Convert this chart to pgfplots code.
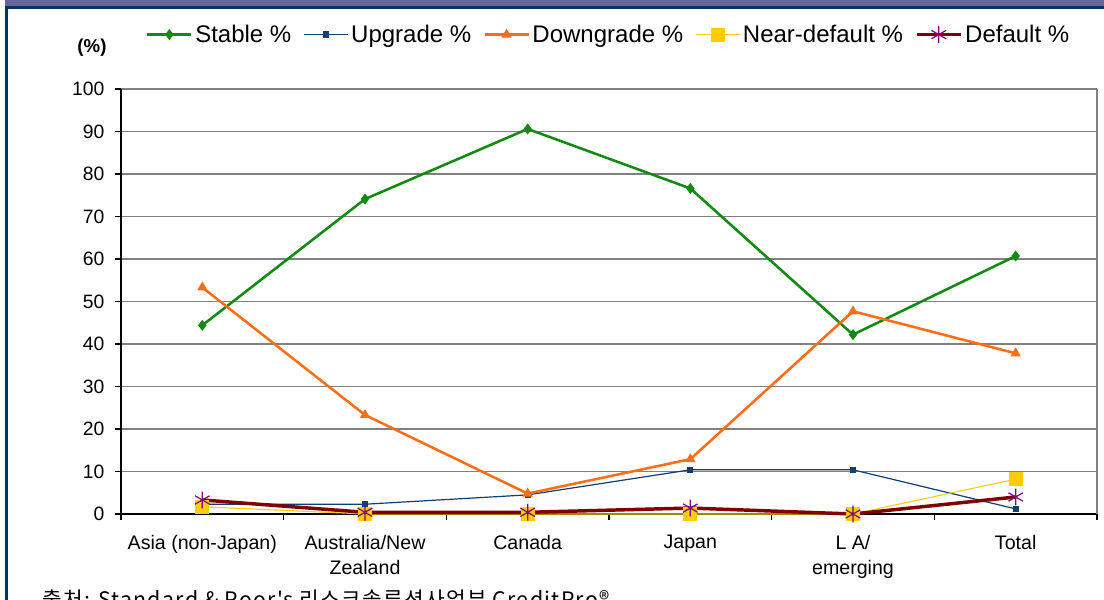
\documentclass[border=0pt]{standalone}
\usepackage{fontspec}
\setmainfont{Liberation Sans}
\newfontfamily\kr[LetterSpace=6]{Noto Sans CJK KR}
\usepackage{pgfplots}
\pgfplotsset{compat=1.18}
\definecolor{cStable}{HTML}{108A10}
\definecolor{cUp}{HTML}{0F3F73}
\definecolor{cDown}{HTML}{FF6E14}
\definecolor{cNear}{HTML}{FFCC00}
\definecolor{cDef}{HTML}{800000}
\definecolor{cAst}{HTML}{800080}
\definecolor{cBand}{HTML}{666699}
\definecolor{cNavy}{HTML}{003366}
\begin{document}
\begin{tikzpicture}
\clip (0,0) rectangle (828pt,450pt);
\fill[white] (0,0) rectangle (828pt,450pt);
\fill[cBand] (3.75pt,445.5pt) rectangle (828pt,450pt);
\fill[cNavy] (3.75pt,443.25pt) rectangle (828pt,445.5pt);
\fill[cNavy] (3.75pt,-1pt) rectangle (6pt,445.5pt);
\begin{axis}[
  at={(90.75pt,64.5pt)}, anchor=south west,
  width=732pt, height=318.75pt, scale only axis,
  xmin=-0.5, xmax=5.5, ymin=0, ymax=100,
  clip=false,
  axis lines=left, axis line style={-, black, line width=0.8pt},
  xtick={-0.5,0.5,...,5.5},
  x tick label as interval,
  xticklabels={Asia (non-Japan),{Australia/New\\Zealand},Canada,Japan,{L A/\\emerging},Total},
  ytick={0,10,...,100},
  tick align=outside, major tick length=4.5pt,
  tick style={black, line width=0.8pt},
  ymajorgrids, grid style={draw=gray, line width=0.8pt},
  /pgf/number format/assume math mode=true,
  yticklabel style={font=\fontsize{14.5}{16}\selectfont, xshift=-4.5pt},
  xticklabel style={font=\fontsize{14.7}{18.75}\selectfont, align=center, yshift=-8pt},
  legend columns=5,
  legend style={at={(0.5,1.128)}, anchor=center, draw=none, fill=none,
    font=\fontsize{18}{20}\selectfont,
    /tikz/every even column/.append style={column sep=7pt},
    nodes={inner sep=2pt}},
  legend image code/.code={\draw[mark repeat=2,mark phase=2,#1] plot coordinates {(0cm,0cm) (0.58cm,0cm) (1.16cm,0cm)};},
]
\addplot[cStable, line width=1.9pt, mark=diamond*, mark size=2.6pt] coordinates {(0,44.4) (1,74.1) (2,90.6) (3,76.6) (4,42.2) (5,60.7)};
\addlegendentry{Stable \%}
\addplot[cUp, line width=0.9pt, mark=square*, mark size=1.9pt] coordinates {(0,2.3) (1,2.3) (2,4.5) (3,10.4) (4,10.4) (5,1.2)};
\addlegendentry{Upgrade \%}
\addplot[cDown, line width=1.9pt, mark=triangle*, mark size=2.6pt] coordinates {(0,53.3) (1,23.3) (2,4.8) (3,12.9) (4,47.7) (5,37.8)};
\addlegendentry{Downgrade \%}
\addplot[cNear, line width=0.8pt, mark=square*, mark size=4.8pt] coordinates {(0,1.7) (1,0) (2,0) (3,0) (4,0) (5,8.2)};
\addlegendentry{Near-default \%}
\addplot[cDef, line width=2.6pt, mark=asterisk, mark size=6.3pt, mark options={draw=cAst, line width=0.9pt}] coordinates {(0,3.3) (1,0.4) (2,0.4) (3,1.4) (4,0) (5,4.0)};
\addlegendentry{Default \%}
\draw[gray, line width=0.8pt] (rel axis cs:1,0) -- (rel axis cs:1,1);
\end{axis}
\node[font=\bfseries\fontsize{14}{16}\selectfont] at (69pt,414pt) {(\%)};
\node[anchor=base west, inner sep=0pt, font=\kr\fontsize{16}{18}\selectfont] at (31.5pt,-5.5pt) {출처: Standard \& Poor's 리스크솔루션사업부 CreditPro®};
\end{tikzpicture}
\end{document}
